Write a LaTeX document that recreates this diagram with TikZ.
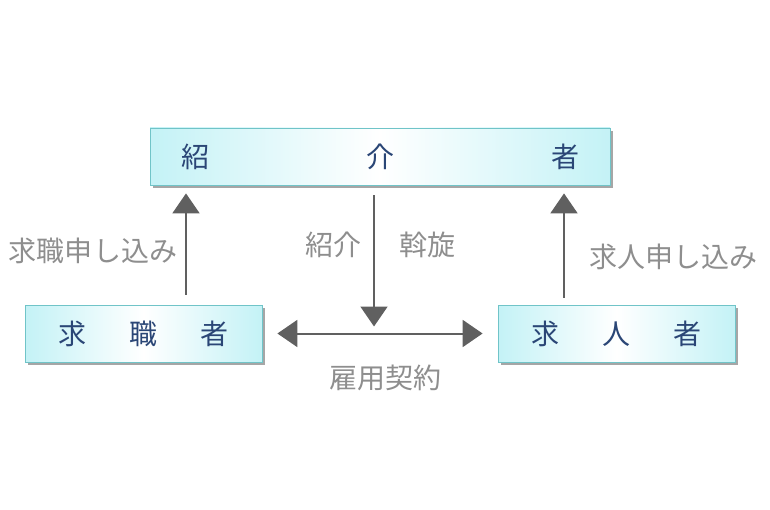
\documentclass[tikz,border=0pt]{standalone}
\usepackage{fontspec}
\setmainfont{Noto Sans CJK JP}
\usetikzlibrary{arrows.meta,positioning,shadows}
\definecolor{boxedge}{HTML}{70C4C8}
\definecolor{boxside}{HTML}{C4F2F6}
\definecolor{boxtext}{HTML}{2A4676}
\definecolor{arrowgray}{HTML}{606060}
\definecolor{labelgray}{HTML}{8E8E8E}
\begin{document}
\begin{tikzpicture}[x=1pt,y=-1pt,>={Triangle[length=20pt,width=27pt]},
    party/.style={draw=boxedge,line width=0.8pt,left color=boxside,right color=boxside,
      middle color=white,minimum height=57pt,inner sep=0pt,text=boxtext,
      font=\fontsize{28}{32}\selectfont,
      drop shadow={shadow xshift=3pt,shadow yshift=-3pt,fill=gray!70,opacity=1}},
    lbl/.style={text=labelgray,font=\fontsize{28}{32}\selectfont,inner sep=0pt},
    flow/.style={->,draw=arrowgray,line width=2pt}]

                \useasboundingbox (0,0) rectangle (770,510);

                \node[party,minimum width=460pt] (agent) at (380,156.5) {紹\hspace{157pt}介\hspace{157pt}者};
                \node[party,minimum width=237pt] (seeker) at (143.5,333.5) {求\hspace{43pt}職\hspace{43pt}者};
                \node[party,minimum width=237pt] (offerer) at (616.5,333.5) {求\hspace{43pt}人\hspace{43pt}者};
                \coordinate (meet) at (374,333.5);

                \draw[flow,shorten <=10pt,shorten >=8pt] ([xshift=42.5pt]seeker.north)
                    -- ([xshift=42.5pt]seeker.north |- agent.south) node[lbl,pos=0.45,left=8pt] {求職申し込み};
                \draw[flow,shorten <=7pt,shorten >=8pt] ([xshift=-52.5pt]offerer.north)
                    -- ([xshift=-52.5pt]offerer.north |- agent.south) node[lbl,pos=0.4,right=24pt] {求人申し込み};
                \draw[flow,shorten <=10pt,shorten >=7pt] (agent.south -| meet) -- (meet)
                    node[lbl,pos=0.4,left=12pt] {紹介}
                    node[lbl,pos=0.4,right=24pt] {斡旋};
                \draw[flow,<->,shorten <=15pt,shorten >=15pt] (seeker.east) -- (offerer.west)
                    node[lbl,midway,below=30pt,xshift=5pt] {雇用契約};

            \end{tikzpicture}
\end{document}
